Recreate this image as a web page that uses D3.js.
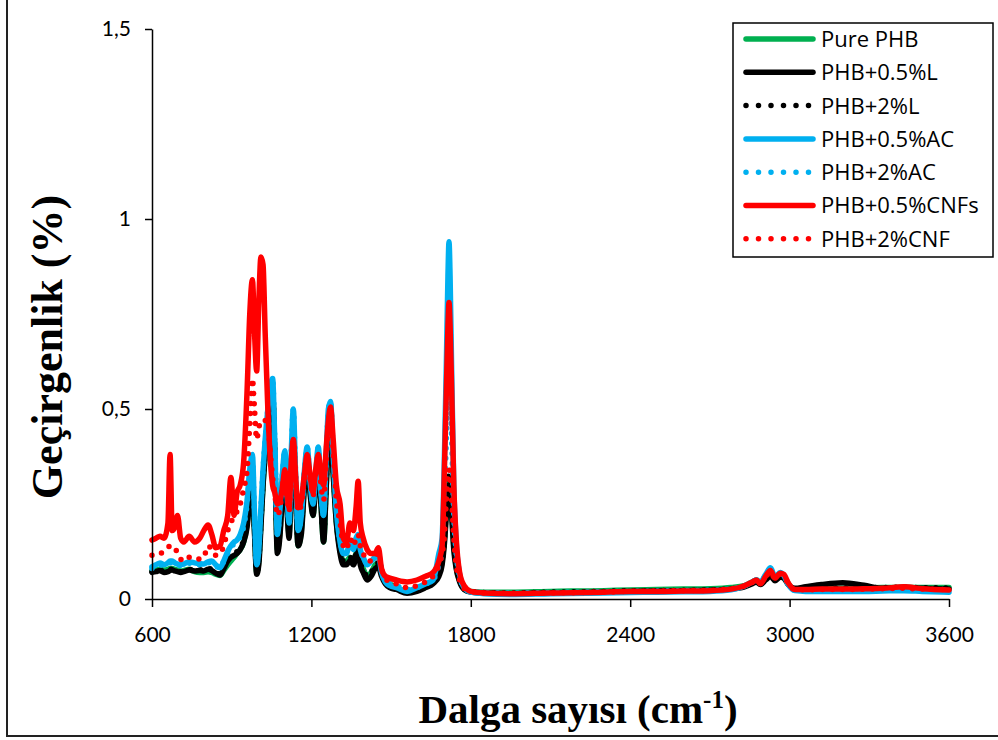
<!DOCTYPE html>
<html>
<head>
<meta charset="utf-8">
<script src="https://cdn.jsdelivr.net/npm/d3@7"></script>
<style>
  body { margin: 0; background: #fff; }
  svg { display: block; }
</style>
</head>
<body>
<script>
// wavenumber grid (cm-1) shared by all spectra
var wn = [600,615,630,645,660,668,676,686,696,708,720,740,760,780,795,811,825,840,856,870,885,897,909,920,932,945,958,968,978,986,994,1002,1010,1018,1026,1036,1046,1054,1062,1072,1082,1092,1100,1108,1116,1124,1132,1140,1150,1162,1174,1184,1196,1206,1216,1226,1236,1246,1256,1264,1272,1282,1294,1308,1320,1332,1345,1358,1368,1376,1384,1395,1410,1425,1440,1452,1464,1478,1495,1520,1560,1597,1630,1658,
  1680,1692,1700,1708,1714,1718,1722,1728,1736,1745,1758,1775,
  1800,1850,1950,2100,2300,2400,2500,2600,2700,2780,2830,2860,2875,2890,2910,2928,2945,2965,2978,2995,3020,3060,3120,3200,3280,3350,3430,3500,3600];

var purePHB = [.075,.076,.078,.076,.078,.08,.08,.078,.076,.074,.075,.078,.072,.07,.07,.072,.07,.065,.062,.075,.09,.1,.11,.12,.13,.15,.2,.27,.3,.18,.07,.1,.2,.3,.38,.46,.53,.54,.38,.13,.18,.3,.35,.25,.17,.3,.43,.3,.14,.18,.3,.37,.28,.22,.3,.37,.25,.15,.3,.42,.45,.33,.2,.13,.1,.1,.11,.1,.12,.14,.1,.08,.06,.07,.09,.095,.07,.05,.04,.03,.02,.025,.035,.045,
  .07,.1,.15,.24,.3,.32,.3,.24,.14,.085,.048,.027,
  .02,.018,.018,.02,.022,.024,.025,.026,.027,.03,.035,.045,.05,.042,.055,.07,.055,.065,.06,.04,.025,.026,.027,.028,.029,.03,.031,.03,.03];
var phb05L = [.07,.072,.075,.07,.072,.075,.076,.074,.072,.07,.072,.076,.074,.075,.074,.078,.075,.068,.063,.08,.1,.11,.115,.12,.13,.15,.19,.26,.29,.17,.065,.09,.19,.3,.38,.46,.53,.54,.38,.12,.17,.29,.35,.24,.16,.3,.43,.29,.14,.17,.3,.37,.27,.22,.3,.37,.25,.15,.3,.42,.44,.33,.2,.12,.09,.09,.1,.09,.11,.13,.09,.07,.05,.06,.08,.085,.06,.04,.03,.025,.015,.02,.03,.04,
  .06,.09,.14,.22,.28,.3,.28,.22,.13,.08,.045,.025,
  .018,.015,.014,.016,.018,.02,.021,.022,.023,.026,.032,.04,.045,.038,.05,.06,.048,.058,.055,.038,.028,.032,.038,.043,.036,.028,.03,.028,.026];
var phb2L = [.072,.074,.076,.072,.075,.078,.078,.076,.074,.072,.074,.078,.076,.077,.076,.08,.078,.07,.066,.085,.105,.115,.12,.125,.135,.155,.2,.27,.3,.18,.07,.1,.2,.31,.39,.47,.54,.55,.4,.14,.19,.31,.36,.26,.18,.32,.44,.31,.15,.19,.31,.38,.29,.23,.31,.38,.26,.16,.31,.43,.45,.34,.21,.13,.1,.1,.11,.1,.12,.14,.1,.08,.06,.07,.09,.095,.07,.05,.04,.03,.02,.025,.035,.045,
  .07,.1,.15,.25,.31,.33,.31,.25,.15,.09,.05,.028,
  .02,.017,.016,.018,.02,.022,.022,.023,.024,.027,.034,.043,.048,.04,.055,.068,.053,.063,.058,.04,.026,.027,.028,.029,.03,.03,.031,.03,.029];
var phb05AC = [.085,.09,.095,.09,.095,.1,.1,.095,.092,.09,.092,.098,.095,.093,.092,.098,.1,.09,.082,.1,.125,.14,.15,.155,.17,.2,.26,.34,.38,.22,.09,.13,.24,.34,.42,.5,.56,.58,.42,.17,.24,.34,.39,.28,.2,.38,.5,.34,.18,.22,.34,.4,.3,.25,.33,.4,.28,.22,.38,.5,.52,.38,.23,.15,.12,.12,.15,.13,.16,.17,.13,.11,.09,.1,.11,.12,.07,.045,.035,.03,.02,.03,.04,.05,
  .12,.16,.35,.62,.85,.94,.85,.6,.3,.15,.065,.03,
  .018,.014,.012,.014,.016,.017,.018,.019,.02,.024,.034,.045,.05,.045,.065,.082,.058,.07,.062,.038,.022,.02,.02,.02,.02,.021,.022,.02,.018];
var phb2AC = [.08,.085,.09,.088,.092,.095,.096,.094,.09,.088,.09,.094,.092,.09,.09,.095,.096,.088,.08,.1,.12,.135,.145,.15,.165,.19,.25,.33,.37,.22,.09,.13,.24,.34,.42,.5,.56,.58,.42,.17,.24,.34,.39,.28,.2,.38,.5,.34,.18,.22,.34,.4,.3,.25,.33,.4,.28,.22,.38,.5,.52,.38,.23,.15,.12,.12,.15,.13,.16,.17,.13,.11,.09,.1,.11,.12,.08,.05,.04,.035,.025,.03,.04,.05,
  .09,.13,.25,.42,.55,.6,.55,.42,.22,.12,.06,.03,
  .02,.017,.016,.017,.019,.02,.021,.022,.023,.027,.035,.045,.05,.045,.062,.078,.056,.068,.06,.038,.024,.023,.023,.023,.024,.025,.026,.025,.023];
var phb05CNF = [.155,.16,.165,.16,.2,.38,.18,.19,.22,.16,.15,.165,.15,.16,.18,.195,.17,.135,.14,.18,.22,.32,.22,.28,.3,.36,.55,.75,.84,.7,.6,.78,.9,.88,.7,.5,.36,.3,.28,.25,.26,.3,.34,.28,.24,.36,.42,.33,.24,.26,.33,.38,.32,.28,.34,.38,.33,.3,.4,.47,.505,.42,.3,.25,.16,.15,.2,.18,.24,.31,.2,.16,.13,.12,.12,.135,.08,.06,.055,.05,.045,.05,.06,.07,
  .1,.14,.32,.55,.72,.78,.72,.55,.3,.16,.07,.035,
  .02,.016,.014,.016,.018,.02,.02,.021,.022,.026,.035,.045,.05,.04,.06,.075,.055,.068,.065,.042,.025,.025,.026,.026,.027,.028,.032,.027,.024];
var phb2CNF = [.115,.12,.12,.125,.135,.14,.14,.135,.12,.105,.1,.11,.11,.105,.11,.14,.13,.115,.12,.14,.18,.2,.22,.23,.25,.29,.34,.46,.58,.5,.42,.45,.47,.47,.47,.46,.38,.32,.28,.22,.24,.3,.33,.27,.23,.34,.41,.32,.23,.25,.32,.37,.31,.27,.33,.37,.3,.26,.37,.46,.49,.39,.26,.2,.14,.13,.16,.14,.16,.17,.14,.12,.1,.1,.11,.12,.08,.055,.045,.04,.03,.035,.045,.06,
  .09,.12,.16,.26,.32,.34,.32,.26,.16,.09,.05,.028,
  .02,.016,.015,.016,.018,.02,.021,.022,.023,.027,.034,.044,.048,.042,.058,.072,.054,.066,.062,.04,.025,.024,.025,.025,.026,.027,.028,.026,.025];

var seriesNames = ["Pure PHB","PHB+0.5%L","PHB+2%L","PHB+0.5%AC","PHB+2%AC","PHB+0.5%CNFs","PHB+2%CNF"];
var seriesValues = [purePHB, phb05L, phb2L, phb05AC, phb2AC, phb05CNF, phb2CNF];
var seriesColors = ["#00b050","#000000","#000000","#00b0f0","#00b0f0","#ff0000","#ff0000"];
var seriesDotted = [false,false,true,false,true,false,true];

var xTicks = [600,1200,1800,2400,3000,3600];
var yTicks = [0,0.5,1,1.5];
var yTickLabels = ["0","0,5","1","1,5"];

var W = 998, H = 740;
var margin = {top: 29, right: 49, bottom: 141, left: 152};

var svg = d3.select("body").append("svg")
  .attr("width", W)
  .attr("height", H);

// outer frame of the figure
svg.append("rect")
  .attr("x", 7).attr("y", -5)
  .attr("width", W + 10).attr("height", 741)
  .attr("fill", "none")
  .attr("stroke", "#222")
  .attr("stroke-width", 2);

var x = d3.scaleLinear().domain([600, 3600]).range([margin.left, W - margin.right]);
var y = d3.scaleLinear().domain([0, 1.5]).range([H - margin.bottom, margin.top]);

var line = d3.line()
  .x(function(d) { return x(d[0]); })
  .y(function(d) { return y(d[1]); })
  .curve(d3.curveMonotoneX);

var plot = svg.append("g");

seriesValues.forEach(function(vals, i) {
  var pts = wn.map(function(w, j) { return [w, vals[j]]; });
  var p = plot.append("path")
    .datum(pts)
    .attr("fill", "none")
    .attr("stroke", seriesColors[i])
    .attr("stroke-width", 5.5)
    .attr("stroke-linejoin", "round")
    .attr("stroke-linecap", "round")
    .attr("d", line);
  if (seriesDotted[i]) p.attr("stroke-dasharray", "0 10");
});

// axes
var xAxis = d3.axisBottom(x).tickValues(xTicks).tickSize(8).tickSizeOuter(0).tickFormat(d3.format("d"));
var yAxis = d3.axisLeft(y).tickValues(yTicks).tickSize(7).tickSizeOuter(0)
  .tickFormat(function(d, i) { return yTickLabels[i]; });

var gx = svg.append("g")
  .attr("transform", "translate(0," + (H - margin.bottom) + ")")
  .call(xAxis);
gx.select(".domain").attr("stroke", "#000").attr("stroke-width", 1.5);
gx.selectAll(".tick line").attr("stroke", "#000").attr("stroke-width", 1.5);
gx.selectAll("text")
  .attr("y", 28)
  .attr("dy", "0.71em")
  .style("font-family", "Lato, 'Open Sans', sans-serif")
  .style("font-size", "21px")
  .attr("fill", "#000");

var gy = svg.append("g")
  .attr("transform", "translate(" + margin.left + ",0)")
  .call(yAxis);
gy.select(".domain").attr("stroke", "#000").attr("stroke-width", 1.5);
gy.selectAll(".tick line").attr("stroke", "#000").attr("stroke-width", 1.5);
gy.selectAll("text")
  .attr("x", -21)
  .style("font-family", "Lato, 'Open Sans', sans-serif")
  .style("font-size", "21px")
  .attr("fill", "#000");

// axis titles
svg.append("text")
  .attr("transform", "translate(62,347) rotate(-90)")
  .attr("text-anchor", "middle")
  .style("font-family", "'Liberation Serif', 'Times New Roman', serif")
  .style("font-weight", "bold")
  .style("font-size", "44px")
  .text("Geçirgenlik (%)");

var xt = svg.append("text")
  .attr("x", 578).attr("y", 723)
  .attr("text-anchor", "middle")
  .style("font-family", "'Liberation Serif', 'Times New Roman', serif")
  .style("font-weight", "bold")
  .style("font-size", "41px");
xt.append("tspan").text("Dalga sayısı (cm");
xt.append("tspan").attr("dy", -15).style("font-size", "25px").text("-1");
xt.append("tspan").attr("dy", 15).text(")");

// legend
var lg = svg.append("g");
lg.append("rect")
  .attr("x", 733).attr("y", 23)
  .attr("width", 260).attr("height", 234)
  .attr("fill", "#fff")
  .attr("stroke", "#000")
  .attr("stroke-width", 1.5);

seriesNames.forEach(function(name, i) {
  var cy = 39 + i * 33.3;
  var l = lg.append("line")
    .attr("x1", 746).attr("x2", 813)
    .attr("y1", cy).attr("y2", cy)
    .attr("stroke", seriesColors[i])
    .attr("stroke-width", 5.5)
    .attr("stroke-linecap", "round");
  if (seriesDotted[i]) l.attr("stroke-dasharray", "0 12.5");
  lg.append("text")
    .attr("x", 821).attr("y", cy)
    .attr("dy", "0.36em")
    .style("font-family", "'Open Sans', sans-serif")
    .style("font-size", "22px")
    .text(name);
});
</script>
</body>
</html>
